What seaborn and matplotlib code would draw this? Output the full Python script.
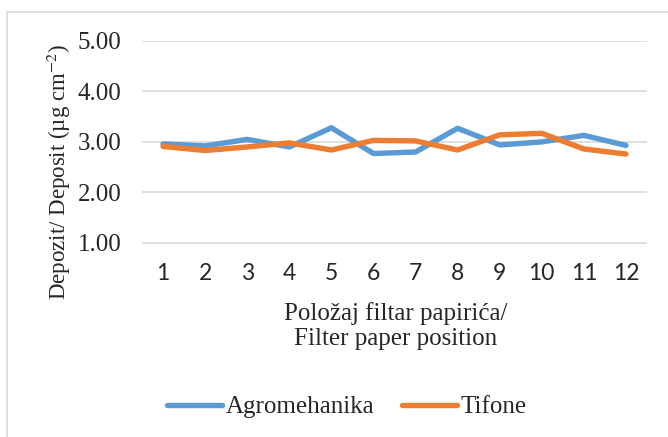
import pandas as pd
import matplotlib.pyplot as plt
import seaborn as sns
from matplotlib.patches import Rectangle

# values
positions = list(range(1, 13))
agromehanika = [2.96, 2.92, 3.05, 2.90, 3.28, 2.77, 2.80, 3.27, 2.94, 3.00, 3.13, 2.93]
tifone = [2.91, 2.83, 2.90, 2.98, 2.84, 3.03, 3.02, 2.84, 3.14, 3.17, 2.86, 2.76]
series_names = ['Agromehanika', 'Tifone']
yticks = [1, 2, 3, 4, 5]

df = pd.DataFrame({
    'pos': positions * 2,
    'value': agromehanika + tifone,
    'series': [series_names[0]] * 12 + [series_names[1]] * 12,
})

sns.set_theme(style='white')
plt.rcParams['font.family'] = ['Liberation Serif', 'DejaVu Serif']
plt.rcParams['mathtext.fontset'] = 'stix'

fig = plt.figure(figsize=(6.68, 4.37), dpi=100)
ax = fig.add_axes([142 / 668, 1 - 263 / 437, 505 / 668, 222 / 437])

# outer chart frame
fig.patches.append(Rectangle((7 / 668, -0.1), 1.2, 1.1 - 12 / 437, transform=fig.transFigure,
                             fill=False, edgecolor='#D9D9D9', linewidth=1.2))

sns.lineplot(data=df, x='pos', y='value', hue='series', ax=ax,
             palette=['#5B9BD5', '#ED7D31'], linewidth=3.9, legend=False)

ax.set_xlim(0.5, 12.5)
ax.set_ylim(0.6, 5.0)
ax.set_yticks(yticks)
ax.set_yticklabels(['%.2f' % v for v in yticks], fontsize=18)
ax.set_xticks(positions)
ax.set_xticklabels([str(p) for p in positions], fontsize=16.5, family='Lato')
for v in yticks:
    ax.axhline(v, color='#D9D9D9', linewidth=1.2, zorder=0)
ax.tick_params(axis='y', length=0, pad=15)
ax.tick_params(axis='x', length=0, pad=0)
for s in ax.spines.values():
    s.set_visible(False)

ax.set_xlabel('')
ax.set_ylabel('')
fig.text(59 / 668, 1 - 172 / 437, 'Depozit/ Deposit (µg cm$^{-2}$)', rotation=90,
         ha='center', va='center', fontsize=16.5)
fig.text(396 / 668, 1 - 326 / 437, 'Položaj filtar papirića/\nFilter paper position',
         ha='center', va='center', fontsize=18, linespacing=1.12)

# legend
handles = [plt.Line2D([], [], color='#5B9BD5', linewidth=3.9),
           plt.Line2D([], [], color='#ED7D31', linewidth=3.9)]
fig.legend(handles, series_names, loc='center', bbox_to_anchor=(347 / 668, 1 - 407 / 437),
           ncol=2, frameon=False, fontsize=18, handlelength=2.2, handletextpad=0.15,
           columnspacing=1.1)

plt.savefig('out.png', dpi=100)
